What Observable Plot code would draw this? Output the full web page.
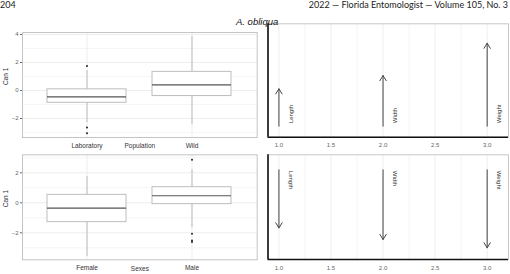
<!DOCTYPE html>
<html>
<head>
<meta charset="utf-8">
<script src="https://cdn.jsdelivr.net/npm/d3@7"></script>
<script src="https://cdn.jsdelivr.net/npm/@observablehq/plot@0.6"></script>
<style>
  html, body { margin: 0; padding: 0; background: white; }
  #wrap { position: relative; width: 510px; height: 274px; overflow: hidden; background: white; }
  #wrap > div.p { position: absolute; }
  #wrap svg { display: block; background: transparent; }
  .hdr { position: absolute; top: 0; font-family: Lato, "Open Sans", sans-serif; font-size: 9px; line-height: 10px; color: #222; white-space: nowrap; }
  .ttl { position: absolute; font-family: "Liberation Sans", Arial, sans-serif; font-style: italic; font-size: 9.5px; line-height: 10px; color: #111; white-space: nowrap; z-index: 5; }
</style>
</head>
<body>
<div id="wrap">
  <div class="hdr" style="left:0px;">204</div>
  <div class="hdr" style="right:2px;">2022 — Florida Entomologist — Volume 105, No. 3</div>
  <div class="ttl" style="left:236px; top:17px;">A. obliqua</div>
  <div class="p" id="p1" style="left:0px; top:24px;"></div>
  <div class="p" id="p2" style="left:260px; top:15px;"></div>
  <div class="p" id="p3" style="left:0px; top:150px;"></div>
  <div class="p" id="p4" style="left:260px; top:150px;"></div>
</div>
<script>
// ---- Population box plot (Can 1) ----
const popCategories = ["Laboratory", "Wild"];
const popLower  = [-2.30, -2.45];
const popQ1     = [-0.88, -0.40];
const popMedian = [-0.46, 0.40];
const popQ3     = [0.08, 1.33];
const popUpper  = [1.43, 3.86];
const popOutlierGroup = ["Laboratory", "Laboratory", "Laboratory"];
const popOutlierValue = [1.74, -2.64, -3.05];
const popYTicks = [-2, 0, 2, 4];
const popYDomain = [-3.36, 4.14];

// ---- Sexes box plot (Can 1) ----
const sexCategories = ["Female", "Male"];
const sexLower  = [-3.58, -1.67];
const sexQ1     = [-1.29, -0.09];
const sexMedian = [-0.36, 0.47];
const sexQ3     = [0.53, 1.04];
const sexUpper  = [1.75, 2.20];
const sexOutlierGroup = ["Male", "Male", "Male", "Male"];
const sexOutlierValue = [2.87, -2.07, -2.51, -2.62];
const sexYTicks = [-2, 0, 2];
const sexYDomain = [-3.8, 3.2];

// ---- Canonical loadings (arrows) ----
const variables = ["Length", "Width", "Weight"];
const varPosition = [1, 2, 3];
const popLoadings = [0.45, 0.61, 1.00];
const sexLoadings = [-0.70, -0.84, -0.94];
const loadingXTicks = [1.0, 1.5, 2.0, 2.5, 3.0];
const loadingXMinor = [1.25, 1.75, 2.25, 2.75];
const loadingXDomain = [0.895, 3.205];
const popLoadYDomain = [-0.133, 1.234];
const sexLoadYDomain = [-1.081, 0.181];

const FONT = '"Liberation Sans", Arial, sans-serif';

function boxPanel(o) {
  const rows = o.cats.map((c, i) => ({c, lower: o.lower[i], q1: o.q1[i], med: o.med[i], q3: o.q3[i], upper: o.upper[i]}));
  const outs = o.outG.map((g, i) => ({c: g, v: o.outV[i]}));
  const minor = Array.from(new Set(o.yTicks.flatMap(t => [t - 1, t + 1])))
    .filter(t => t > o.yDomain[0] && t < o.yDomain[1] && !o.yTicks.includes(t));
  return Plot.plot({
    width: 260, height: o.height,
    marginLeft: 22, marginRight: 3.3, marginTop: o.mt, marginBottom: o.mb,
    style: {background: "transparent", fontFamily: FONT},
    x: {domain: o.cats, type: "band", paddingInner: 0.245, paddingOuter: 0.231, label: null, axis: null},
    y: {domain: o.yDomain, label: null, axis: null},
    marks: [
      Plot.gridY(minor, {stroke: "#f5f5f5", strokeOpacity: 1}),
      Plot.gridY(o.yTicks, {stroke: "#ededed", strokeOpacity: 1}),
      Plot.gridX(o.cats, {stroke: "#ededed", strokeOpacity: 1}),
      Plot.frame({stroke: "#c4c4c4"}),
      Plot.ruleX(rows, {x: "c", y1: "lower", y2: "upper", stroke: "#bdbdbd"}),
      Plot.barY(rows, {x: "c", y1: "q1", y2: "q3", fill: "white", stroke: "#bdbdbd"}),
      Plot.tickY(rows, {x: "c", y: "med", stroke: "#555", strokeWidth: 1.2}),
      Plot.dot(outs, {x: "c", y: "v", r: 1, fill: "#222"}),
      Plot.axisY(o.yTicks, {tickSize: 2, tickPadding: 2, fontSize: 6, color: "#666", label: null}),
      Plot.axisX({tickSize: 0, tickPadding: o.xPad, fontSize: 6.5, color: "#333", label: null}),
      Plot.text([o.xLabel], {frameAnchor: "bottom", dy: o.xLabelDy, fontSize: 6.5, fill: "#333"}),
      Plot.text(["Can 1"], {frameAnchor: "left", rotate: -90, dx: -16.5, fontSize: 6.5, fill: "#333"})
    ]
  });
}

function loadingPanel(o) {
  const rows = variables.map((v, i) => ({v, x: varPosition[i], load: o.loads[i]}));
  return Plot.plot({
    width: 250, height: o.height,
    marginLeft: 7.5, marginRight: 2, marginTop: o.mt, marginBottom: o.mb,
    style: {background: "transparent", fontFamily: FONT},
    x: {domain: loadingXDomain, label: null, axis: null},
    y: {domain: o.yDomain, label: null, axis: null},
    marks: [
      Plot.gridX(loadingXMinor, {stroke: "#f5f5f5", strokeOpacity: 1}),
      Plot.gridX(loadingXTicks, {stroke: "#eeeeee", strokeOpacity: 1}),
      Plot.frame({stroke: "#c8c8c8"}),
      Plot.ruleX([loadingXDomain[0]], {stroke: "#111", strokeWidth: 1.6}),
      Plot.ruleY([o.yDomain[0]], {stroke: "#111", strokeWidth: 1.6}),
      Plot.arrow(rows, {x1: "x", x2: "x", y1: () => 0, y2: "load", stroke: "#444", strokeWidth: 1, headAngle: 64, headLength: 9}),
      Plot.text(rows, {x: "x", y: () => 0, text: "v", rotate: o.rotate, textAnchor: "start", dx: 12, dy: o.textDy, fontSize: 6, fill: "#333"}),
      Plot.axisX(loadingXTicks, {tickSize: 0, tickPadding: o.xPad, fontSize: 6, color: "#666", label: null, tickFormat: d => d.toFixed(1)})
    ]
  });
}

document.getElementById("p1").append(boxPanel({
  cats: popCategories, lower: popLower, q1: popQ1, med: popMedian, q3: popQ3, upper: popUpper,
  outG: popOutlierGroup, outV: popOutlierValue, yTicks: popYTicks, yDomain: popYDomain,
  xLabel: "Population", height: 126, mt: 8, mb: 13, xPad: 6, xLabelDy: 10
}));
document.getElementById("p2").append(loadingPanel({
  loads: popLoadings, yDomain: popLoadYDomain, height: 135, mt: 8.3, mb: 13.3,
  rotate: -90, textDy: -3, xPad: 6
}));
document.getElementById("p3").append(boxPanel({
  cats: sexCategories, lower: sexLower, q1: sexQ1, med: sexMedian, q3: sexQ3, upper: sexUpper,
  outG: sexOutlierGroup, outV: sexOutlierValue, yTicks: sexYTicks, yDomain: sexYDomain,
  xLabel: "Sexes", height: 124, mt: 4.3, mb: 14.7, xPad: 5.4, xLabelDy: 10.7
}));
document.getElementById("p4").append(loadingPanel({
  loads: sexLoadings, yDomain: sexLoadYDomain, height: 124, mt: 4.3, mb: 15,
  rotate: 90, textDy: 1, xPad: 5.8
}));
</script>
</body>
</html>
